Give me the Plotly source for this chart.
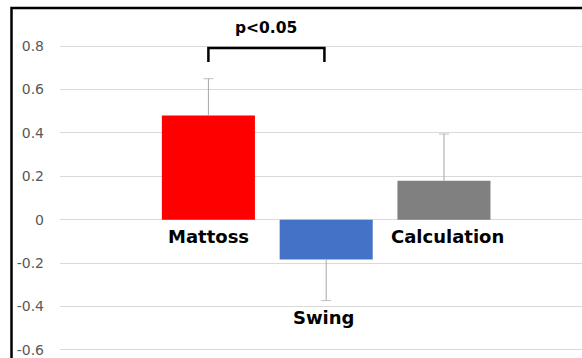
import plotly.graph_objects as go

categories = ["Mattoss", "Swing", "Calculation"]
values = [0.48, -0.183, 0.18]
err_plus = [0.17, 0.0, 0.215]
err_minus = [0.0, 0.19, 0.0]
colors = ["#FF0000", "#4472C4", "#808080"]
tick_vals = [-0.6, -0.4, -0.2, 0, 0.2, 0.4, 0.6, 0.8]
tick_text = ["-0.6", "-0.4", "-0.2", "0", "0.2", "0.4", "0.6", "0.8"]
sig_label = "p<0.05"

idx = list(range(len(categories)))

fig = go.Figure()
fig.add_trace(go.Bar(
    x=idx, y=values, width=0.79,
    marker=dict(color=colors, line=dict(width=0)),
    showlegend=False, hoverinfo="skip",
))

# one-sided error bars: line from bar end to tip, cap at tip only
ex, ey, es = [], [], []
for i, v, ep, em in zip(idx, values, err_plus, err_minus):
    tip = v + ep if v >= 0 else v - em
    ex += [i, i, None]
    ey += [v, tip, None]
    es += [0, 7, 0]
fig.add_trace(go.Scatter(
    x=ex, y=ey, mode="lines+markers",
    line=dict(color="#A6A6A6", width=1),
    marker=dict(symbol="line-ew", size=es, line=dict(color="#A6A6A6", width=1)),
    showlegend=False, hoverinfo="skip", cliponaxis=False,
))

# category labels placed beside bars
label_pos = [(0.0, -0.078), (0.98, -0.452), (2.028, -0.078)]
for name, (lx, ly) in zip(categories, label_pos):
    fig.add_annotation(x=lx, y=ly, xref="x", yref="y", text="<b>%s</b>" % name,
                       showarrow=False, font=dict(family="DejaVu Sans", size=18, color="black"),
                       xanchor="center", yanchor="middle")

# significance bracket
fig.add_shape(type="path", xref="x", yref="y",
              path="M 0,0.727 L 0,0.792 L 0.985,0.792 L 0.985,0.727",
              line=dict(color="black", width=2.5))

# plot area spans y 44..352 px
PT, PB = 44, 352
def py(px):
    return (PB - px) / (PB - PT)

fig.add_annotation(x=0.49, y=py(28), xref="x", yref="paper", text="<b>%s</b>" % sig_label,
                   showarrow=False, font=dict(family="DejaVu Sans", size=15.5, color="black"),
                   xanchor="center", yanchor="middle")

# outer frame (left and top edges)
fig.add_shape(type="path", xref="paper", yref="paper",
              path="M -0.0929,-0.2 L -0.0929,%.4f L 1.2,%.4f" % (py(8), py(8)),
              line=dict(color="black", width=2.5))

fig.update_layout(
    width=582, height=358,
    margin=dict(l=60, r=0, t=PT, b=358 - PB),
    paper_bgcolor="white", plot_bgcolor="white",
    bargap=0.2,
    xaxis=dict(range=[-1.26, 3.172], showticklabels=False, showgrid=False,
               zeroline=False, showline=False, ticks=""),
    yaxis=dict(range=[-0.61, 0.81], tickvals=tick_vals, ticktext=tick_text,
               showgrid=True, gridcolor="#D9D9D9", gridwidth=1,
               zeroline=True, zerolinecolor="#D9D9D9", zerolinewidth=1,
               showline=False, ticks="", ticklabelstandoff=15,
               tickfont=dict(family="DejaVu Sans", size=14, color="#595959")),
)

fig.write_html("out.html", config={"displayModeBar": False},
               post_script="document.body.style.margin='0';document.body.style.overflow='hidden';")
